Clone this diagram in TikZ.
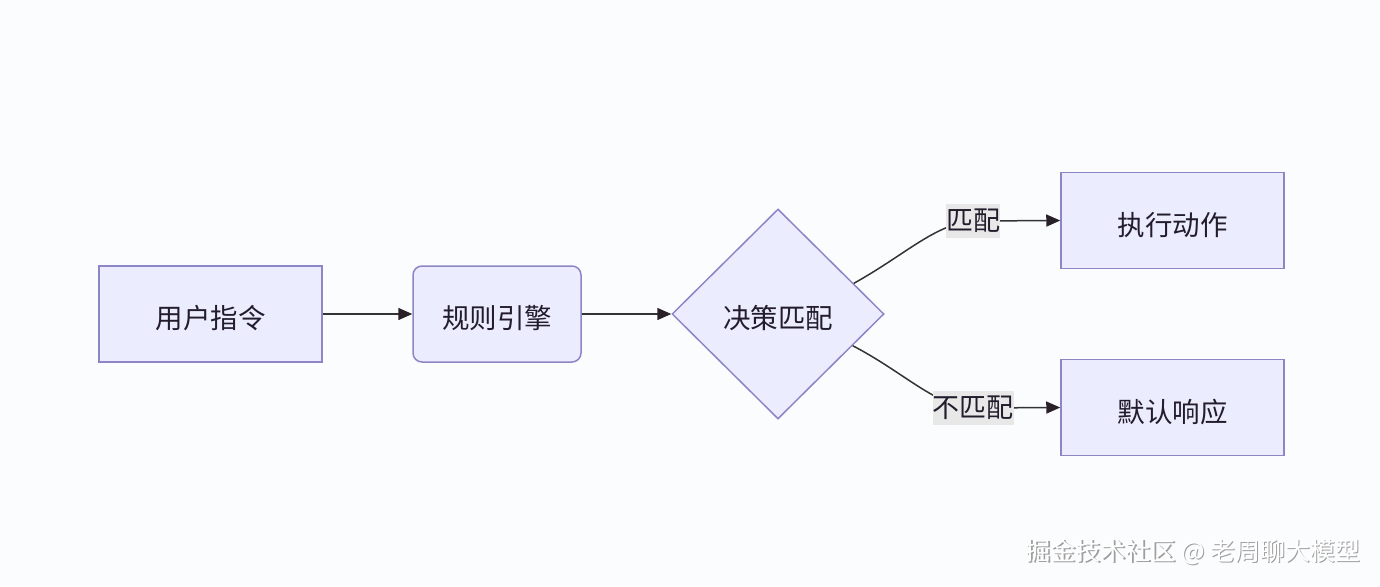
\documentclass[tikz,border=0pt]{standalone}
\usepackage{fontspec}
\setmainfont{Noto Sans CJK SC}
\usetikzlibrary{shapes.geometric,arrows.meta,calc}
\definecolor{bg}{HTML}{FBFCFE}
\definecolor{nodefill}{HTML}{ECECFF}
\definecolor{nodeline}{HTML}{8C86C6}
\definecolor{edgecol}{HTML}{333333}
\definecolor{arrcol}{HTML}{2A2128}
\definecolor{lblbg}{HTML}{E8E8E8}
\definecolor{txt}{HTML}{221C2C}
\begin{document}
\begin{tikzpicture}[x=1pt,y=-1pt,
  box/.style={draw=nodeline,fill=nodefill,line width=1.5pt,minimum width=223pt,minimum height=96pt,inner sep=0pt,text=txt,text height=29pt,text depth=0pt,font=\fontsize{27.5}{32}\selectfont},
  rbox/.style={box,rounded corners=9pt,minimum width=168pt},
  dia/.style={diamond,draw=nodeline,fill=nodefill,line width=1.5pt,minimum width=212pt,minimum height=210pt,inner sep=0pt,text=txt,text height=29pt,text depth=0pt,font=\fontsize{27.5}{32}\selectfont},
  arr/.style={draw=edgecol,line width=1.5pt,-{Triangle[length=14pt,width=12pt,color=arrcol]}},
  lbl/.style={fill=lblbg,inner xsep=0pt,inner ysep=5pt,font=\fontsize{27}{32}\selectfont,text=txt},
  wmstyle/.style={font=\fontsize{25}{30}\selectfont}]
\useasboundingbox[fill=bg] (0,0) rectangle (1380,586);
\node[box] (a) at (210.5,314) {用户指令};
\node[rbox] (b) at (497,314) {规则引擎};
\node[dia] (d) at (778,314) {决策匹配};
\node[box] (e1) at (1172.5,220.5) {执行动作};
\node[box] (e2) at (1172.5,407.5) {默认响应};
\coordinate (c1) at (973,221);
\coordinate (c2) at (973,408);
\draw[arr] (a) -- (b);
\draw[arr] (b) -- (d);
\draw[arr] ($(d.east)!0.29!(d.north)$) .. controls (905,255) and (935,224) .. (c1) -- (e1.west);
\draw[arr] ($(d.east)!0.30!(d.south)$) .. controls (905,373) and (935,406) .. (c2) -- (e2.west);
\node[lbl] (l1) at (c1) {匹配};
\node[lbl] (l2) at (c2) {不匹配};
\node[wmstyle,text=gray!75] (wms) at (1194.5,553.5) {掘金技术社区 @ 老周聊大模型};
\node[wmstyle,text=white] (wm) at (1193,552) {掘金技术社区 @ 老周聊大模型};
\end{tikzpicture}
\end{document}
